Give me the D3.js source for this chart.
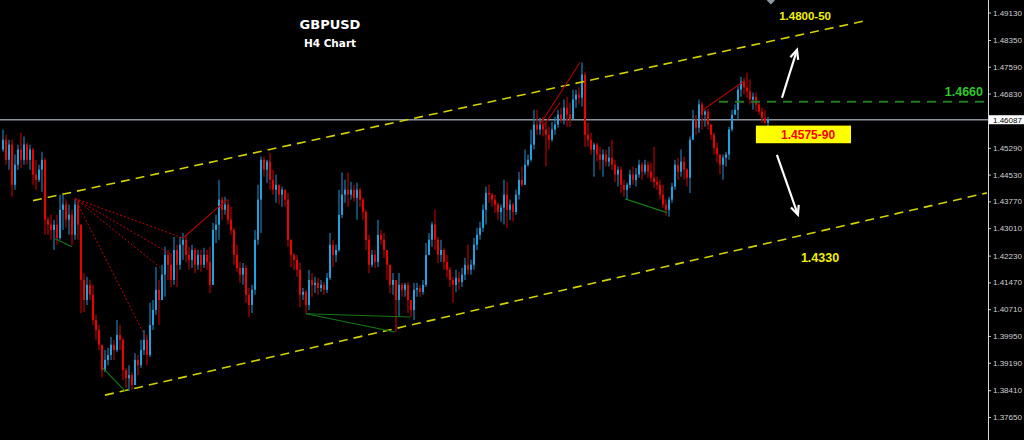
<!DOCTYPE html>
<html><head><meta charset="utf-8">
<script src="https://cdnjs.cloudflare.com/ajax/libs/d3/7.8.5/d3.min.js"></script>
<style>html,body{margin:0;padding:0;background:#000;overflow:hidden}</style>
</head><body><svg id="chart" width="1024" height="440"></svg>
<script>
// ---------- DATA ----------
const symbol = "GBPUSD";
const timeframe = "H4 Chart";
const firstOpen = 1.4524;
const closes = [
1.4552,1.4495,1.4538,1.4424,1.4481,1.4524,1.4495,1.4538,1.4495,1.4524,
1.4453,1.4438,1.4467,1.4495,1.4325,1.4311,1.4296,1.4311,1.4273,1.4353,
1.4368,1.4325,1.4339,1.4282,1.4368,1.4311,1.4154,1.4097,1.4140,1.4112,
1.4040,1.4012,1.3970,1.3898,1.3927,1.3941,1.3970,1.3955,1.3998,1.3984,
1.3898,1.3875,1.3884,1.3856,1.3927,1.3912,1.3955,1.3984,1.3941,1.4026,
1.4069,1.4126,1.4097,1.4169,1.4225,1.4197,1.4154,1.4239,1.4197,1.4254,
1.4268,1.4225,1.4211,1.4239,1.4197,1.4225,1.4197,1.4225,1.4205,1.4140,
1.4296,1.4311,1.4382,1.4353,1.4368,1.4325,1.4296,1.4225,1.4188,1.4169,
1.4188,1.4112,1.4083,1.4126,1.4268,1.4382,1.4495,1.4467,1.4490,1.4438,
1.4410,1.4424,1.4396,1.4410,1.4382,1.4268,1.4225,1.4211,1.4183,1.4112,
1.4120,1.4083,1.4154,1.4140,1.4146,1.4131,1.4140,1.4126,1.4160,1.4254,
1.4225,1.4239,1.4339,1.4396,1.4410,1.4396,1.4410,1.4387,1.4410,1.4382,
1.4347,1.4268,1.4197,1.4225,1.4205,1.4282,1.4268,1.4239,1.4197,1.4140,
1.4154,1.4097,1.4140,1.4126,1.4140,1.4097,1.4069,1.4126,1.4131,1.4120,
1.4140,1.4225,1.4268,1.4311,1.4268,1.4225,1.4239,1.4205,1.4183,1.4154,
1.4140,1.4160,1.4148,1.4169,1.4197,1.4183,1.4197,1.4254,1.4282,1.4302,
1.4353,1.4401,1.4396,1.4382,1.4368,1.4347,1.4359,1.4396,1.4353,1.4368,
1.4347,1.4396,1.4438,1.4424,1.4481,1.4495,1.4538,1.4595,1.4581,1.4595,
1.4581,1.4566,1.4552,1.4581,1.4595,1.4623,1.4609,1.4643,1.4623,1.4609,
1.4666,1.4680,1.4671,1.4737,1.4566,1.4552,1.4524,1.4538,1.4510,1.4495,
1.4510,1.4490,1.4501,1.4481,1.4453,1.4467,1.4424,1.4410,1.4424,1.4453,
1.4438,1.4453,1.4481,1.4461,1.4481,1.4461,1.4444,1.4432,1.4424,1.4396,
1.4368,1.4353,1.4382,1.4419,1.4481,1.4461,1.4490,1.4467,1.4444,1.4552,
1.4609,1.4586,1.4652,1.4623,1.4632,1.4595,1.4566,1.4529,1.4510,1.4481,
1.4501,1.4510,1.4581,1.4623,1.4637,1.4694,1.4717,1.4700,1.4689,1.4666,
1.4674,1.4652,1.4632,1.4614,1.4600,1.46087];
const highs = [
1.4581,1.4566,1.4552,1.4552,1.4510,1.4538,1.4572,1.4561,1.4543,1.4538,
1.4529,1.4495,1.4481,1.4518,1.4501,1.4333,1.4339,1.4325,1.4339,1.4396,
1.4396,1.4382,1.4368,1.4353,1.4382,1.4382,1.4311,1.4174,1.4163,1.4154,
1.4140,1.4055,1.4026,1.3970,1.3955,1.3961,1.3992,1.3984,1.4040,1.4026,
1.3990,1.3904,1.3912,1.3892,1.3946,1.3941,1.3984,1.4012,1.3998,1.4089,
1.4097,1.4191,1.4154,1.4197,1.4248,1.4239,1.4230,1.4276,1.4254,1.4276,
1.4287,1.4282,1.4248,1.4254,1.4245,1.4239,1.4239,1.4245,1.4239,1.4248,
1.4316,1.4339,1.4438,1.4390,1.4390,1.4382,1.4362,1.4302,1.4254,1.4205,
1.4202,1.4197,1.4131,1.4140,1.4296,1.4424,1.4504,1.4504,1.4495,1.4515,
1.4467,1.4453,1.4424,1.4419,1.4410,1.4401,1.4268,1.4230,1.4225,1.4202,
1.4131,1.4126,1.4183,1.4174,1.4163,1.4160,1.4154,1.4148,1.4174,1.4287,
1.4268,1.4254,1.4410,1.4459,1.4438,1.4459,1.4432,1.4424,1.4430,1.4415,
1.4387,1.4353,1.4282,1.4239,1.4239,1.4325,1.4296,1.4287,1.4239,1.4197,
1.4174,1.4154,1.4174,1.4146,1.4146,1.4148,1.4097,1.4146,1.4146,1.4140,
1.4154,1.4259,1.4287,1.4319,1.4353,1.4276,1.4268,1.4245,1.4225,1.4191,
1.4163,1.4183,1.4177,1.4188,1.4216,1.4254,1.4211,1.4273,1.4302,1.4319,
1.4368,1.4419,1.4424,1.4401,1.4396,1.4373,1.4368,1.4438,1.4432,1.4382,
1.4373,1.4410,1.4461,1.4476,1.4524,1.4510,1.4581,1.4637,1.4637,1.4614,
1.4617,1.4600,1.4589,1.4603,1.4617,1.4637,1.4643,1.4666,1.4674,1.4657,
1.4694,1.4694,1.4700,1.4771,1.4745,1.4600,1.4572,1.4543,1.4543,1.4532,
1.4524,1.4524,1.4532,1.4552,1.4495,1.4476,1.4476,1.4438,1.4430,1.4467,
1.4476,1.4472,1.4495,1.4487,1.4495,1.4490,1.4487,1.4532,1.4447,1.4438,
1.4424,1.4382,1.4390,1.4430,1.4495,1.4501,1.4524,1.4504,1.4472,1.4561,
1.4637,1.4623,1.4666,1.4660,1.4637,1.4640,1.4595,1.4572,1.4543,1.4510,
1.4510,1.4518,1.4589,1.4637,1.4652,1.4703,1.4731,1.4728,1.4743,1.4723,
1.4686,1.4686,1.4657,1.4643,1.4637,1.4617];
const lows = [
1.4518,1.4481,1.4467,1.4390,1.4410,1.4467,1.4472,1.4481,1.4481,1.4467,
1.4424,1.4410,1.4432,1.4404,1.4282,1.4282,1.4268,1.4239,1.4254,1.4268,
1.4296,1.4302,1.4282,1.4254,1.4268,1.4268,1.4060,1.4063,1.4083,1.4097,
1.4026,1.3984,1.3955,1.3878,1.3892,1.3912,1.3927,1.3927,1.3949,1.3955,
1.3870,1.3848,1.3839,1.3842,1.3856,1.3884,1.3904,1.3941,1.3912,1.3935,
1.4012,1.4055,1.4026,1.4097,1.4106,1.4154,1.4134,1.4140,1.4134,1.4183,
1.4211,1.4205,1.4183,1.4188,1.4174,1.4183,1.4177,1.4188,1.4183,1.4117,
1.4140,1.4259,1.4268,1.4325,1.4339,1.4311,1.4282,1.4197,1.4177,1.4146,
1.4140,1.4089,1.4049,1.4060,1.4112,1.4254,1.4287,1.4447,1.4430,1.4410,
1.4396,1.4373,1.4368,1.4362,1.4362,1.4248,1.4191,1.4183,1.4163,1.4077,
1.4097,1.4060,1.4069,1.4106,1.4117,1.4112,1.4120,1.4112,1.4117,1.4154,
1.4191,1.4205,1.4234,1.4330,1.4373,1.4362,1.4382,1.4376,1.4325,1.4362,
1.4325,1.4239,1.4174,1.4190,1.4188,1.4191,1.4254,1.4216,1.4154,1.4117,
1.4112,1.4006,1.4049,1.4106,1.4106,1.4060,1.4049,1.4040,1.4106,1.4106,
1.4112,1.4134,1.4225,1.4248,1.4239,1.4202,1.4205,1.4183,1.4160,1.4134,
1.4089,1.4120,1.4126,1.4134,1.4154,1.4169,1.4169,1.4183,1.4239,1.4268,
1.4290,1.4311,1.4373,1.4362,1.4345,1.4325,1.4319,1.4311,1.4302,1.4325,
1.4319,1.4339,1.4382,1.4419,1.4424,1.4476,1.4490,1.4524,1.4566,1.4566,
1.4561,1.4476,1.4524,1.4547,1.4566,1.4586,1.4600,1.4595,1.4589,1.4589,
1.4609,1.4643,1.4652,1.4646,1.4532,1.4532,1.4510,1.4447,1.4490,1.4467,
1.4447,1.4476,1.4476,1.4467,1.4432,1.4419,1.4401,1.4390,1.4382,1.4415,
1.4424,1.4419,1.4444,1.4438,1.4453,1.4444,1.4432,1.4415,1.4410,1.4382,
1.4359,1.4336,1.4333,1.4373,1.4410,1.4438,1.4447,1.4438,1.4419,1.4401,
1.4552,1.4566,1.4572,1.4581,1.4589,1.4581,1.4552,1.4510,1.4487,1.4453,
1.4438,1.4476,1.4495,1.4575,1.4623,1.4609,1.4674,1.4680,1.4671,1.4652,
1.4637,1.4632,1.4623,1.4600,1.4595,1.4589];
const tickValues = [1.4913,1.4835,1.4759,1.4683,1.4529,1.4453,1.4377,1.4301,1.4223,1.4147,1.4071,1.3995,1.3919,1.3841,1.3765];
const currentPrice = 1.46087;
// trend objects: [candle index, price]
const channelUpper = [[10.33,1.4379],[288,1.4890]];
const channelLower = [[34.33,1.3827],[328.3,1.4401]];
const fanOrigin = [24.33,1.4385];
const fanEnds = [[60.33,1.4273],[56.67,1.4225],[53.33,1.4185],[48.33,1.3984]];
const redLines = [
  [[60.33,1.4273],[75,1.4382]],
  [[179.33,1.4595],[192.67,1.4771]],
  [[180.3,1.4590],[186,1.4657]],
  [[233.67,1.4637],[247.67,1.4720]]];
const greenLines = [
  [[17.67,1.4271],[23.33,1.4248]],
  [[33.67,1.3904],[41,1.3839]],
  [[101.33,1.4058],[131,1.4006]],
  [[101.33,1.4058],[136,1.4049]],
  [[207.67,1.4384],[221.67,1.4345]]];
const resistanceLevel = 1.4660, resistanceStart = 239;
const arrowUp = [[260,1.4671],[265,1.4807]];
const arrowDown = [[258.3,1.4509],[265.3,1.4339]];
const marker = [256.3,1.4947];
const labelTarget = {text:"1.4800-50", idx:267.7, price:1.4893};
const labelLevel = {text:"1.4660", idx:327, price:1.4677};
const labelSupport = {text:"1.4330", idx:266.3, price:1.4205};
const boxCurrent = {text:"1.4575-90", idx0:251.3, idx1:283, p0:1.4592, p1:1.4542, tIdx:268.7, tPrice:1.4553};

// ---------- CHART ----------
const W = 1024, H = 440, axisX = 988;
const svg = d3.select("#chart");
svg.append("rect").attr("width",W).attr("height",H).attr("fill","#000");
const x = d3.scaleLinear().domain([0, closes.length-1]).range([2, 767]);
const y = d3.scaleLinear().domain([1.3765, 1.4913]).range([417, 12.5]);

const candles = closes.map((c,i)=>({i, o: i===0?firstOpen:closes[i-1], c, h: highs[i], l: lows[i]}));

// current price line
svg.append("line").attr("x1",0).attr("x2",axisX).attr("y1",y(currentPrice)).attr("y2",y(currentPrice))
  .attr("stroke","#8d949c").attr("stroke-width",1.4);

const g = svg.append("g");
candles.forEach(d=>{
  const up = d.c >= d.o;
  const cx = Math.round(x(d.i));
  const hi = Math.max(d.h, d.o, d.c), lo = Math.min(d.l, d.o, d.c);
  g.append("line").attr("x1",cx+1).attr("x2",cx+1).attr("y1",y(hi)).attr("y2",y(lo))
    .attr("stroke", up?"#1a74a6":"#a80000").attr("stroke-width",1.3);
  const top = y(Math.max(d.o,d.c)), bot = y(Math.min(d.o,d.c));
  g.append("rect").attr("x",cx).attr("width",2).attr("y",top).attr("height",Math.max(1,bot-top))
    .attr("fill", up?"#1fa2e0":"#ec0000");
});

const line = d3.line().x(p=>x(p[0])).y(p=>y(p[1]));
// channel
[channelUpper, channelLower].forEach(c=>{
  svg.append("path").attr("d",line(c)).attr("fill","none").attr("stroke","#d2d200")
    .attr("stroke-width",1.6).attr("stroke-dasharray","9,6");
});
// fan
fanEnds.forEach(e=>{
  svg.append("path").attr("d",line([fanOrigin,e])).attr("fill","none").attr("stroke","#c80000")
    .attr("stroke-width",1).attr("stroke-dasharray","2,2");
});
redLines.forEach(l=>svg.append("path").attr("d",line(l)).attr("fill","none").attr("stroke","#b30000").attr("stroke-width",1.1));
greenLines.forEach(l=>svg.append("path").attr("d",line(l)).attr("fill","none").attr("stroke","#157a15").attr("stroke-width",1.1));

// resistance level
svg.append("line").attr("x1",x(resistanceStart)).attr("x2",axisX).attr("y1",y(resistanceLevel)).attr("y2",y(resistanceLevel))
  .attr("stroke","#237a23").attr("stroke-width",2).attr("stroke-dasharray","9,7");

// arrows
function arrow(a){
  const x1=x(a[0][0]), y1=y(a[0][1]), x2=x(a[1][0]), y2=y(a[1][1]);
  const ang=Math.atan2(y2-y1,x2-x1), L=10, sp=0.42;
  svg.append("line").attr("x1",x1).attr("y1",y1).attr("x2",x2).attr("y2",y2).attr("stroke","#fff").attr("stroke-width",2.2);
  const pts=[[x2-L*Math.cos(ang-sp),y2-L*Math.sin(ang-sp)],[x2,y2],[x2-L*Math.cos(ang+sp),y2-L*Math.sin(ang+sp)]];
  svg.append("polyline").attr("points",pts.map(p=>p.join(",")).join(" ")).attr("fill","none")
    .attr("stroke","#fff").attr("stroke-width",2.2).attr("stroke-linejoin","miter");
}
arrow(arrowUp); arrow(arrowDown);

// marker diamond
{
  const mx=x(marker[0]), my=y(marker[1]);
  svg.append("polygon").attr("points",`${mx},${my-4} ${mx+4},${my} ${mx},${my+4} ${mx-4},${my}`).attr("fill","#8d96a3");
}

// labels
const bold = "'Liberation Sans', Arial, sans-serif";
svg.append("text").attr("x",x(labelTarget.idx)).attr("y",y(labelTarget.price)).attr("text-anchor","middle")
  .attr("font-family",bold).attr("font-weight","bold").attr("font-size",11.5).attr("fill","#f0f000").text(labelTarget.text);
svg.append("text").attr("x",x(labelLevel.idx)).attr("y",y(labelLevel.price)).attr("text-anchor","end")
  .attr("font-family",bold).attr("font-weight","bold").attr("font-size",12.5).attr("fill","#2ec82e").text(labelLevel.text);
svg.append("text").attr("x",x(labelSupport.idx)).attr("y",y(labelSupport.price)).attr("text-anchor","start")
  .attr("font-family",bold).attr("font-weight","bold").attr("font-size",12.5).attr("fill","#f0f000").text(labelSupport.text);
svg.append("rect").attr("x",x(boxCurrent.idx0)).attr("width",x(boxCurrent.idx1)-x(boxCurrent.idx0))
  .attr("y",y(boxCurrent.p0)).attr("height",y(boxCurrent.p1)-y(boxCurrent.p0)).attr("fill","#ffff00");
svg.append("text").attr("x",x(boxCurrent.tIdx)).attr("y",y(boxCurrent.tPrice)).attr("text-anchor","middle")
  .attr("font-family",bold).attr("font-weight","bold").attr("font-size",12).attr("fill","#ff0000").text(boxCurrent.text);

// title
svg.append("text").attr("x",330).attr("y",29).attr("text-anchor","middle").attr("font-family","'DejaVu Sans', Verdana, sans-serif")
  .attr("font-weight","bold").attr("font-size",13).attr("fill","#fff").text(symbol);
svg.append("text").attr("x",330).attr("y",47).attr("text-anchor","middle").attr("font-family","'DejaVu Sans', Verdana, sans-serif")
  .attr("font-weight","bold").attr("font-size",10.5).attr("fill","#fff").text(timeframe);

// price axis
const axis = d3.axisRight(y).tickValues(tickValues).tickSize(3).tickPadding(2).tickFormat(d3.format(".5f"));
const ag = svg.append("g").attr("transform",`translate(${axisX},0)`).call(axis);
ag.select(".domain").remove();
ag.selectAll(".tick line").attr("stroke","#c8c8c8");
ag.selectAll(".tick text").attr("fill","#d0d0d0").attr("font-family","'Liberation Sans', Arial, sans-serif").attr("font-size",8);
svg.append("line").attr("x1",axisX+0.5).attr("x2",axisX+0.5).attr("y1",0).attr("y2",H).attr("stroke","#d8d8d8").attr("stroke-width",1);
// current price tag
const cy = y(currentPrice);
svg.append("rect").attr("x",axisX+1).attr("y",cy-4.5).attr("width",W-axisX-1).attr("height",9).attr("fill","#fff");
svg.append("text").attr("x",axisX+5).attr("y",cy+3).attr("font-family","'Liberation Sans', Arial, sans-serif")
  .attr("font-size",8).attr("fill","#000").text(d3.format(".5f")(currentPrice));
</script></body></html>
